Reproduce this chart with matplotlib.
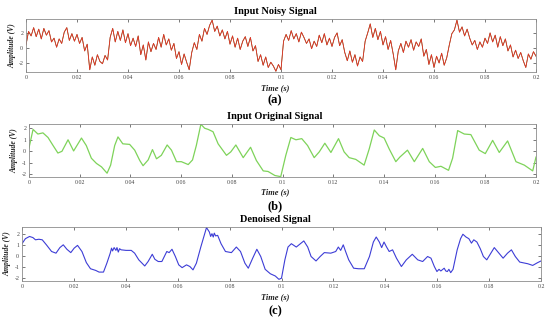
import numpy as np
import matplotlib.pyplot as plt

# ---- data ----
# (a) noisy input, one value every 1 ms
t_noisy = np.arange(201) * 0.001
noisy = [0.4, 2.2, 1.6, 2.7, 1.5, 2.5, 1.2, 2.6, 1.7, 2.3,
         0.8, 1.3, 0.1, 1.2, 0.6, 2.1, 2.7, 1.0, 1.9, 0.9,
         1.8, 0.6, 1.4, -0.4, 0.5, -2.9, -1.2, -2.3, -0.9, -1.8,
         -2.1, -1.0, -1.6, 1.4, 2.6, 0.8, 2.2, 1.0, 2.4, 0.7,
         1.9, 0.3, 1.3, 0.2, 1.6, -0.9, 0.4, -1.6, 0.8, -0.5,
         0.6, -0.2, 1.4, 0.1, 1.8, 0.4, 1.2, -0.3, 0.6, -1.4,
         -0.5, -2.2, -0.8, -1.9, -2.9, -0.6, 0.7, -0.2, 1.8, 0.9,
         2.6, 1.8, 3.0, 3.7, 2.2, 2.9, 1.6, 2.4, 1.2, 2.2,
         0.5, 1.6, 0.1, 1.3, -0.2, 0.9, 1.5, 0.2, 1.4, -0.4,
         0.3, -1.8, -0.9, -2.3, -1.2, -2.6, -1.9, -2.4, -3.1, -2.2,
         -2.9, 0.9, 1.8, 1.0, 2.3, 1.2, 1.9, 0.8, 2.1, 1.4,
         0.6, 1.2, -0.1, 0.9, 0.2, 1.7, 0.7, 1.9, 0.4, 1.3,
         0.2, 1.4, 2.0, 0.3, 1.1, -0.6, -1.7, -0.4, -1.9, -0.9,
         -2.4, -1.2, -1.8, 0.9, 2.0, 3.2, 1.4, 2.6, 1.1, 2.2,
         0.4, 1.5, -0.2, 1.0, -0.8, -2.9, -0.4, 0.6, -0.6, 0.9,
         0.1, 1.1, -0.3, 0.8, 0.2, 1.2, -1.1, -0.2, -2.2, -0.9,
         -2.6, -1.1, -2.0, -0.7, -2.3, -1.3, 0.4, 1.9, 2.4, 3.7,
         2.1, 2.8, 1.6, 2.5, 1.3, 0.4, 1.0, -0.2, 0.8, 0.1,
         1.3, 0.6, 2.0, 0.8, 1.7, 0.1, 1.5, 0.3, 1.2, -0.4,
         0.4, -1.2, -0.3, -1.4, -0.6, -1.7, -2.6, -0.8, -1.5, -0.5, -1.1]

# (b) original input
t_orig = [0.0, 0.0016, 0.0035, 0.0055, 0.0075, 0.0095, 0.0114, 0.013, 0.0154, 0.0176,
          0.0207, 0.0226, 0.0246, 0.0266, 0.0286, 0.0308, 0.0322, 0.0338, 0.0351, 0.037,
          0.0397, 0.0417, 0.0437, 0.045, 0.047, 0.0487, 0.0503, 0.0522, 0.0545, 0.0562,
          0.0582, 0.0601, 0.0628, 0.0645, 0.066, 0.0678, 0.0693, 0.0707, 0.0726, 0.0746,
          0.0779, 0.0796, 0.0816, 0.0845, 0.0874, 0.0897, 0.0924, 0.0943, 0.097, 0.0993,
          0.1013, 0.1033, 0.1053, 0.1076, 0.1099, 0.1125, 0.1145, 0.1167, 0.1191, 0.1221,
          0.1243, 0.1263, 0.1289, 0.1322, 0.1342, 0.1362, 0.1382, 0.1401, 0.1421, 0.1447,
          0.1463, 0.1493, 0.152, 0.1553, 0.1579, 0.1603, 0.1625, 0.1655, 0.1671, 0.1691,
          0.1717, 0.1743, 0.1776, 0.18, 0.1829, 0.1855, 0.1888, 0.1921, 0.1954, 0.1987, 0.2]
orig = [0.3, 1.9, 1.5, 1.6, 1.2, 0.5, -0.15, 0.0, 1.0, 0.03,
        1.15, 0.5, -0.6, -1.05, -1.35, -1.9, -1.2, 0.5, 1.25, 0.65,
        0.6, 0.1, -0.8, -1.25, -0.75, 0.15, -0.65, -0.35, 0.55, 0.1,
        -0.9, -0.9, -1.15, -0.75, 0.5, 2.35, 2.0, 1.9, 1.7, 0.65,
        -0.35, -0.05, 0.55, -0.55, 0.35, -0.8, -1.7, -1.75, -2.1, -2.2,
        -0.35, 1.2, 1.0, 1.1, 0.5, -0.55, -0.05, 0.7, -0.1, 1.1,
        -0.05, -0.55, -0.7, -1.2, 0.2, 1.85, 1.35, 1.15, 0.2, -0.9,
        -0.5, 0.1, -0.9, 0.25, -0.9, -1.4, -1.3, -1.65, -0.6, 1.8,
        1.5, 1.45, 0.1, -0.2, 0.95, -0.1, 0.9, -0.9, -1.2, -1.7, -0.5]

# (c) denoised output
t_den = [0.0, 0.0013, 0.0029, 0.0042, 0.0052, 0.0065, 0.0078, 0.0094, 0.0114, 0.0131,
         0.0146, 0.0159, 0.0173, 0.0188, 0.0201, 0.0214, 0.0231, 0.0248, 0.0264, 0.0284,
         0.0297, 0.0314, 0.0327, 0.034, 0.0345, 0.0349, 0.0355, 0.0362, 0.0366, 0.0371,
         0.0376, 0.0382, 0.0401, 0.0421, 0.0434, 0.045, 0.0473, 0.0486, 0.0502, 0.0512,
         0.0525, 0.0539, 0.0558, 0.0567, 0.0578, 0.0591, 0.0604, 0.0617, 0.0634, 0.0647,
         0.0659, 0.0672, 0.0689, 0.0702, 0.0711, 0.0722, 0.0727, 0.0732, 0.0737, 0.0741,
         0.0746, 0.0754, 0.0767, 0.0784, 0.0807, 0.0826, 0.0842, 0.0859, 0.0872, 0.0889,
         0.0905, 0.092, 0.0937, 0.0957, 0.0976, 0.099, 0.1, 0.1013, 0.1025, 0.1038,
         0.1057, 0.1073, 0.1086, 0.1101, 0.1114, 0.1133, 0.1149, 0.1165, 0.119, 0.1209,
         0.1219, 0.1228, 0.1238, 0.1247, 0.1259, 0.1278, 0.1297, 0.1319, 0.1339, 0.1354,
         0.1365, 0.1377, 0.1386, 0.1395, 0.1405, 0.1415, 0.1428, 0.1443, 0.1462, 0.1481,
         0.1504, 0.1525, 0.1544, 0.1563, 0.1576, 0.1589, 0.1599, 0.1607, 0.1614, 0.1627,
         0.1633, 0.1639, 0.1645, 0.1652, 0.1661, 0.1677, 0.169, 0.1699, 0.1711, 0.1722,
         0.1732, 0.1741, 0.1753, 0.1766, 0.1778, 0.1791, 0.1807, 0.182, 0.1838, 0.1854,
         0.1871, 0.1886, 0.1901, 0.1918, 0.1949, 0.1968, 0.1987, 0.2]
den = [1.1, 1.55, 1.75, 1.65, 1.45, 1.5, 1.45, 1.0, 0.4, 0.25,
       0.75, 1.0, 0.6, 0.3, 0.7, 0.95, 0.4, -0.6, -1.15, -1.3,
       -1.45, -1.45, -0.65, 0.25, 0.7, 0.45, 0.75, 0.5, 0.75, 0.35,
       0.65, 0.55, 0.5, 0.5, 0.25, -0.35, -0.9, -0.5, 0.15, -0.3,
       -0.5, -0.5, 0.4, 0.3, 0.6, -0.05, -0.8, -1.05, -0.8, -0.95,
       -1.25, -0.65, 0.8, 1.85, 2.55, 2.15, 1.75, 2.0, 1.7, 2.05,
       1.8, 1.85, 1.1, 0.4, 0.3, 0.8, 0.4, -0.65, -1.1, -0.2,
       0.6, -0.05, -1.2, -1.6, -1.8, -2.1, -2.0, -0.35, 0.8, 1.1,
       0.8, 1.1, 1.35, 0.8, -0.05, -0.45, -0.05, 0.3, 0.25, 0.4,
       0.8, 0.5, 1.0, 0.4, -0.35, -1.1, -1.15, -1.15, -0.05, 1.25,
       1.7, 1.25, 0.75, 1.25, 0.8, 0.4, 0.55, -0.2, -0.95, -0.35,
       0.15, -0.35, -0.5, -0.05, -0.2, -0.95, -1.4, -1.2, -1.35, -1.1,
       -1.35, -1.4, -1.2, -1.5, -1.2, 0.55, 1.55, 1.95, 1.7, 1.55,
       1.15, 1.45, 1.25, 0.65, -0.05, -0.35, 0.25, 0.75, 0.25, -0.2,
       0.25, 0.55, -0.05, -0.55, -0.7, -0.85, -0.6, -0.45]

xticks = [0, 0.02, 0.04, 0.06, 0.08, 0.1, 0.12, 0.14, 0.16, 0.18, 0.2]
xlabels = ['0', '0.02', '0.04', '0.06', '0.08', '0.1', '0.12', '0.14', '0.16', '0.18', '0.2']

plt.rcParams['font.family'] = ['Liberation Serif', 'DejaVu Serif']

W, H = 550, 321
fig = plt.figure(figsize=(W / 100, H / 100), dpi=100)


def fy(py):
    return 1 - py / H


def make_axes(left, right, top, bottom, ylim, yticks, ylab_x):
    ax = fig.add_axes([left / W, fy(bottom), (right - left) / W, (bottom - top) / H])
    ax.set_xlim(0, 0.2)
    ax.set_ylim(*ylim)
    ax.set_xticks(xticks)
    ax.set_xticklabels(xlabels)
    ax.set_yticks(yticks)
    ax.set_yticklabels([str(v) for v in yticks])
    ax.tick_params(direction='in', length=2.5, width=0.5, top=True, right=True,
                   labelsize=4.2, pad=2, colors='#444444')
    for s in ax.spines.values():
        s.set_color('#8c8c8c')
        s.set_linewidth(0.6)
    fig.text(ylab_x / W, fy((top + bottom) / 2), 'Amplitude (V)', rotation=90,
             ha='center', va='center', fontsize=5.5, style='italic', weight='bold',
             color='#222222')
    return ax


def labels(title, title_y, time_y, tag, tag_y):
    fig.text(0.5, fy(title_y), title, ha='center', va='center', fontsize=7.5,
             weight='bold')
    fig.text(0.5, fy(time_y), 'Time (s)', ha='center', va='center', fontsize=6,
             style='italic', weight='bold', color='#222222')
    fig.text(0.5, fy(tag_y), tag, ha='center', va='center', fontsize=9,
             weight='bold')


# (a)
ax1 = make_axes(26, 536, 19, 72, (-3.2, 3.85), [-2, 0, 2], 12)
ax1.plot(t_noisy, noisy, color='#3d7a2a', lw=0.5)
ax1.plot(t_noisy, noisy, color='#ea2f25', lw=0.6)
labels('Input Noisy Signal', 12, 88, '(a)', 100)

# (b)
ax2 = make_axes(29, 536, 124, 177, (-2.23, 2.37), [-2, -1, 0, 1, 2], 14)
ax2.plot(t_orig, orig, color='#7ed35a', lw=0.9)
labels('Input Original Signal', 117, 192, '(b)', 206)

# (c)
ax3 = make_axes(22, 541, 227, 281, (-2.25, 2.6), [-2, -1, 0, 1, 2], 7.5)
ax3.plot(t_den, den, color='#3d3dd6', lw=0.8)
labels('Denoised Signal', 220, 297, '(c)', 311)

fig.savefig('out.png', dpi=100)
